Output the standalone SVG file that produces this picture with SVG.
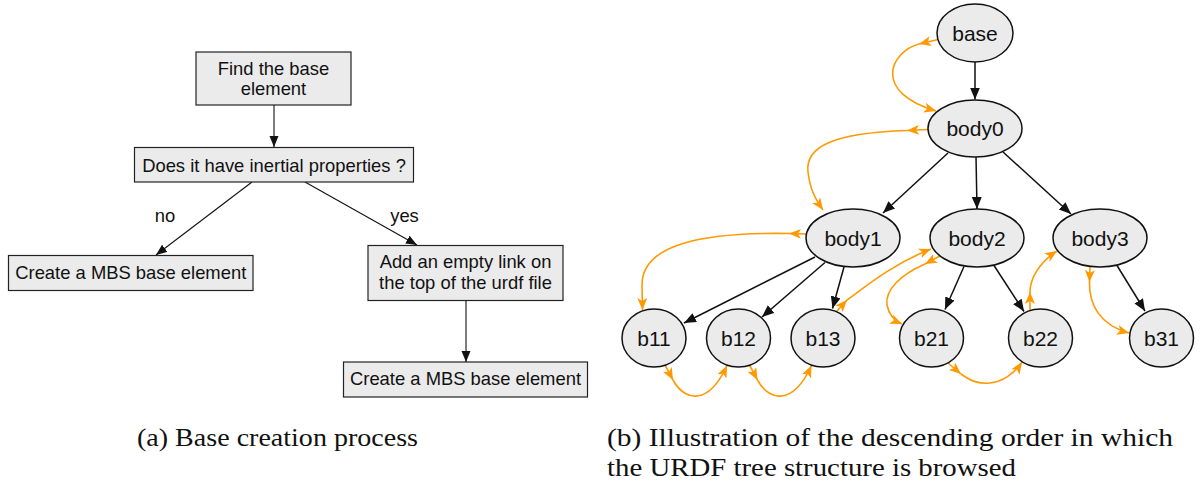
<svg xmlns="http://www.w3.org/2000/svg" width="1200" height="486" viewBox="0 0 1200 486">
  <style>
    .box { fill: #ebebeb; stroke: #222; stroke-width: 1.2; }
    .node { fill: #ebebeb; stroke: #111; stroke-width: 1.5; }
    .ftxt { font-family: "Liberation Sans", Arial, Helvetica, sans-serif; font-size: 18.4px; fill: #111; text-anchor: middle; }
    .ntxt { font-family: "Liberation Sans", Arial, Helvetica, sans-serif; font-size: 21px; fill: #111; text-anchor: middle; }
    .cap { font-family: "Liberation Serif", "Times New Roman", serif; font-size: 25px; fill: #111; }
    .flow { fill: none; stroke: #111; stroke-width: 1.1; marker-end: url(#headFlow); }
    .edge { fill: none; stroke: #111; stroke-width: 1.5; marker-end: url(#headTree); }
    .walk { fill: none; stroke: #ff9900; stroke-width: 1.6; marker-end: url(#headWalk); }
  </style>
  <defs>
    <marker id="headFlow" markerUnits="userSpaceOnUse" markerWidth="12" markerHeight="10" refX="11" refY="4.5" orient="auto">
      <path d="M0,0 L11,4.5 L0,9 Z" fill="#111"/>
    </marker>
    <marker id="headTree" markerUnits="userSpaceOnUse" markerWidth="13" markerHeight="11" refX="12" refY="5" orient="auto">
      <path d="M0,0 L12,5 L0,10 Z" fill="#111"/>
    </marker>
    <marker id="headWalk" markerUnits="userSpaceOnUse" markerWidth="13" markerHeight="11" refX="12" refY="5" orient="auto">
      <path d="M0,0 L12,5 L0,10 L3,5 Z" fill="#ff9900"/>
    </marker>
  </defs>

  <!-- (a) base creation flowchart -->
  <g id="flow-connectors">
    <path class="flow" d="M274,105 L274,147"/>
    <path class="flow" d="M252,182 L156,255"/>
    <path class="flow" d="M305,182 L417,245"/>
    <path class="flow" d="M466,300.5 L466,362"/>
    <text class="ftxt" x="165" y="221.5">no</text>
    <text class="ftxt" x="404.5" y="221.5">yes</text>
  </g>
  <g id="find-base">
    <rect class="box" x="196" y="52" width="155" height="53"/>
    <text class="ftxt" x="273.5" y="75">Find the base</text>
    <text class="ftxt" x="273.5" y="95">element</text>
  </g>
  <g id="inertial-check">
    <rect class="box" x="134.5" y="147.5" width="279" height="34.5"/>
    <text class="ftxt" x="274" y="171.5">Does it have inertial properties ?</text>
  </g>
  <g id="create-base-no">
    <rect class="box" x="8.5" y="255.5" width="244.5" height="35"/>
    <text class="ftxt" x="130.75" y="279">Create a MBS base element</text>
  </g>
  <g id="add-empty-link">
    <rect class="box" x="368" y="245.5" width="195" height="55"/>
    <text class="ftxt" x="465.5" y="268">Add an empty link on</text>
    <text class="ftxt" x="465.5" y="289">the top of the urdf file</text>
  </g>
  <g id="create-base-yes">
    <rect class="box" x="343.5" y="362" width="244" height="35"/>
    <text class="ftxt" x="465.5" y="385">Create a MBS base element</text>
  </g>

  <!-- (b) URDF tree and its traversal order -->
  <g id="tree-connectors">
    <path class="edge" d="M975,62 L975,99.5"/>
    <path class="edge" d="M948,153 L883,213"/>
    <path class="edge" d="M976,156.5 L977,209"/>
    <path class="edge" d="M1003,152 L1071,214"/>
    <path class="edge" d="M815,257 L684,323"/>
    <path class="edge" d="M825,262.5 L762,317"/>
    <path class="edge" d="M844,267 L832.5,308.5"/>
    <path class="edge" d="M964,266.5 L945,309.5"/>
    <path class="edge" d="M994,265.5 L1024,311.5"/>
    <path class="edge" d="M1117,265.5 L1145,311"/>
  </g>
  <g id="walk-connectors">
    <path class="walk" d="M938,39.5 L919,44"/>
    <path class="walk" d="M919,44 C890,52 872,92 936,111"/>
    <path class="walk" d="M928,129.5 L907,130.5"/>
    <path class="walk" d="M907,130.5 C830,133 805,148 808,172 C810,190 816,200 823,210"/>
    <path class="walk" d="M806.5,234 L789,233.5"/>
    <path class="walk" d="M789,233.5 C700,232 642,245 642,285 L642.5,310"/>
    <path class="walk" d="M665,365 L673,380"/>
    <path class="walk" d="M673,380 C680,393 690,397 697,396 C708,395 718,385 727,365.5"/>
    <path class="walk" d="M749.5,365 L757.5,380"/>
    <path class="walk" d="M757.5,380 C764.5,393 774.5,397 781.5,396 C792.5,395 802.5,385 811.5,365.5"/>
    <path class="walk" d="M836.5,311.5 L847,300"/>
    <path class="walk" d="M847,300 C870,283 895,263 931,249"/>
    <path class="walk" d="M940,256 L925,264"/>
    <path class="walk" d="M925,264 C900,275 885,290 887,305 C889,315 895,321 902,324"/>
    <path class="walk" d="M948,363 L961,374"/>
    <path class="walk" d="M961,374 C972,382 980,384 990,383 C1002,382 1014,374 1022,362"/>
    <path class="walk" d="M1030,310.5 L1030,292"/>
    <path class="walk" d="M1030,292 C1030,278 1040,262 1057,251"/>
    <path class="walk" d="M1090,266.5 L1089.5,282"/>
    <path class="walk" d="M1089.5,282 C1089,305 1100,325 1129,333"/>
  </g>
  <g id="base"><ellipse class="node" cx="975" cy="33" rx="38" ry="29"/><text class="ntxt" x="975" y="40.5">base</text></g>
  <g id="body0"><ellipse class="node" cx="975" cy="128.5" rx="47" ry="28.5"/><text class="ntxt" x="975" y="136">body0</text></g>
  <g id="body1"><ellipse class="node" cx="853" cy="238" rx="47" ry="29"/><text class="ntxt" x="853" y="245.5">body1</text></g>
  <g id="body2"><ellipse class="node" cx="977" cy="238" rx="47" ry="29"/><text class="ntxt" x="977" y="245.5">body2</text></g>
  <g id="body3"><ellipse class="node" cx="1100" cy="238" rx="47" ry="29"/><text class="ntxt" x="1100" y="245.5">body3</text></g>
  <g id="b11"><ellipse class="node" cx="654" cy="338" rx="32" ry="29"/><text class="ntxt" x="654" y="345.5">b11</text></g>
  <g id="b12"><ellipse class="node" cx="738.5" cy="338" rx="32" ry="29"/><text class="ntxt" x="738.5" y="345.5">b12</text></g>
  <g id="b13"><ellipse class="node" cx="823" cy="338" rx="32" ry="29"/><text class="ntxt" x="823" y="345.5">b13</text></g>
  <g id="b21"><ellipse class="node" cx="931.5" cy="338" rx="32" ry="29"/><text class="ntxt" x="931.5" y="345.5">b21</text></g>
  <g id="b22"><ellipse class="node" cx="1040.5" cy="338" rx="32" ry="29"/><text class="ntxt" x="1040.5" y="345.5">b22</text></g>
  <g id="b31"><ellipse class="node" cx="1161.5" cy="338" rx="32" ry="29"/><text class="ntxt" x="1161.5" y="345.5">b31</text></g>

  <!-- captions -->
  <g id="captions">
    <text class="cap" x="137" y="446" textLength="281" lengthAdjust="spacingAndGlyphs">(a) Base creation process</text>
    <text class="cap" x="607" y="446" textLength="566" lengthAdjust="spacingAndGlyphs">(b) Illustration of the descending order in which</text>
    <text class="cap" x="607" y="476" textLength="409" lengthAdjust="spacingAndGlyphs">the URDF tree structure is browsed</text>
  </g>
</svg>
